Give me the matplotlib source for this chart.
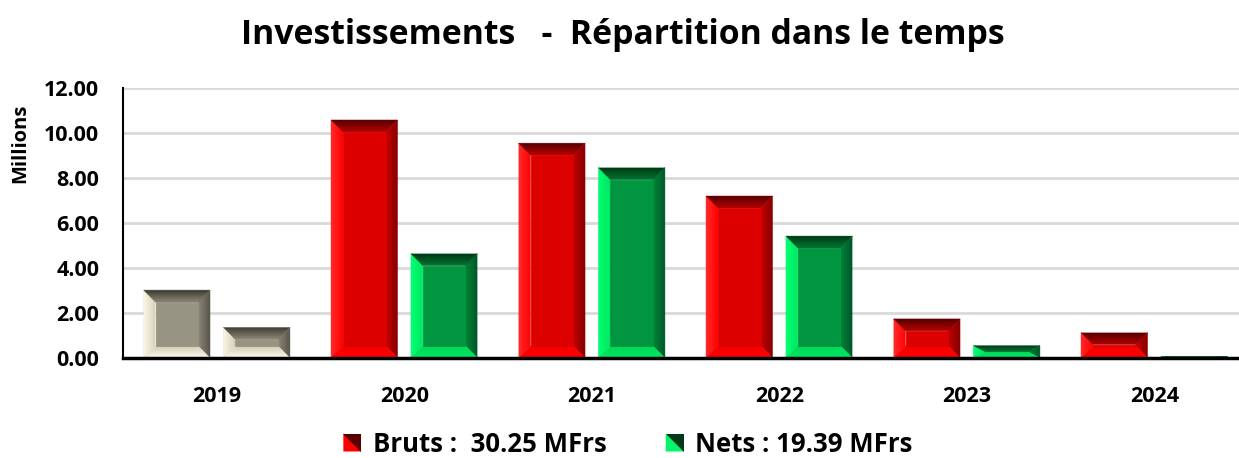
import matplotlib
matplotlib.use("Agg")
import matplotlib.pyplot as plt
from matplotlib.patches import Polygon
from matplotlib.legend_handler import HandlerBase
from matplotlib.colors import to_rgb
import numpy as np

years = ["2019", "2020", "2021", "2022", "2023", "2024"]
bruts = [3.02, 10.58, 9.55, 7.20, 1.74, 1.13]
nets = [1.36, 4.64, 8.46, 5.42, 0.55, 0.08]
yticks = [0, 2, 4, 6, 8, 10, 12]
title = "Investissements   -  Répartition dans le temps"
legend_labels = ["Bruts :  30.25 MFrs", "Nets : 19.39 MFrs"]

FONT = "Open Sans"
plt.rcParams['font.family'] = [FONT, 'DejaVu Sans']

# facet colours: (outer, inner) per facet, plus centre
RED = dict(top=("#560000", "#b80000"), left=("#ff2a2a", "#ff0000"),
           right=("#840000", "#c40000"), bottom=("#ff0000", "#f50000"), centre="#dc0000")
GREEN = dict(top=("#003a17", "#00772f"), left=("#00ff72", "#00e862"),
             right=("#00582a", "#008538"), bottom=("#00ea60", "#00d858"), centre="#00963f")
GREY = dict(top=("#3c3c30", "#8a8676"), left=("#fbf6e4", "#d6d0ba"),
            right=("#58544a", "#8c8878"), bottom=("#fffbea", "#d2ccb6"), centre="#989484")

W, H = 1239, 458
fig = plt.figure(figsize=(W / 100, H / 100), dpi=100)
ax_left_px, ax_right_px = 123, 1248
ax_top_px, ax_bot_px = 88, 358
ax = fig.add_axes([ax_left_px / W, 1 - ax_bot_px / H,
                   (ax_right_px - ax_left_px) / W, (ax_bot_px - ax_top_px) / H])

n = len(years)
x = np.arange(n)
width = 0.355
offset = 0.213
ax.set_xlim(-0.5, n - 0.5)
ax.set_ylim(0, 12)

ppx = (ax_right_px - ax_left_px) / n
ppy = (ax_bot_px - ax_top_px) / 12
bev_px = 12
bx = bev_px / ppx
by = bev_px / ppy


def grad_patch(pts, c_outer, c_inner, direction):
    poly = Polygon(pts, closed=True, facecolor="none", edgecolor="none")
    ax.add_patch(poly)
    xs = [p[0] for p in pts]
    ys = [p[1] for p in pts]
    a, b = np.array(to_rgb(c_outer)), np.array(to_rgb(c_inner))
    t = np.linspace(0, 1, 32)
    if direction == "top":
        img = (b[None, :] * (1 - t[:, None]) + a[None, :] * t[:, None])[:, None, :]
    elif direction == "bottom":
        img = (a[None, :] * (1 - t[:, None]) + b[None, :] * t[:, None])[:, None, :]
    elif direction == "left":
        img = (a[None, :] * (1 - t[:, None]) + b[None, :] * t[:, None])[None, :, :]
    else:
        img = (b[None, :] * (1 - t[:, None]) + a[None, :] * t[:, None])[None, :, :]
    im = ax.imshow(img, extent=(min(xs), max(xs), min(ys), max(ys)), origin="lower",
                   aspect="auto", interpolation="bilinear", zorder=3)
    im.set_clip_path(poly)
    c = tuple((a + b) / 2)
    ax.add_patch(Polygon(pts, closed=True, facecolor="none", edgecolor=c, linewidth=0.3, zorder=3))


def bevel_bar(xc, h, col):
    if h <= 0:
        return
    x0, x1 = xc - width / 2, xc + width / 2
    y0, y1 = 0, h
    b_y = min(by, h / 2)
    ix0, ix1 = x0 + bx, x1 - bx
    iy0, iy1 = y0 + b_y, y1 - b_y
    grad_patch([(x0, y0), (x0, y1), (ix0, iy1), (ix0, iy0)], *col["left"], "left")
    grad_patch([(x1, y0), (x1, y1), (ix1, iy1), (ix1, iy0)], *col["right"], "right")
    grad_patch([(x0, y0), (x1, y0), (ix1, iy0), (ix0, iy0)], *col["bottom"], "bottom")
    grad_patch([(x0, y1), (x1, y1), (ix1, iy1), (ix0, iy1)], *col["top"], "top")
    if iy1 > iy0:
        ax.add_patch(Polygon([(ix0, iy0), (ix1, iy0), (ix1, iy1), (ix0, iy1)], closed=True,
                             facecolor=col["centre"], edgecolor=col["centre"], linewidth=0.6, zorder=3.5))


for i in range(n):
    cb = GREY if i == 0 else RED
    cn = GREY if i == 0 else GREEN
    bevel_bar(x[i] - offset, bruts[i], cb)
    bevel_bar(x[i] + offset, nets[i], cn)

ax.set_xlim(-0.5, n - 0.5)
ax.set_ylim(0, 12)
ax.set_yticks(yticks)
ax.set_yticklabels([f"{v:.2f}" for v in yticks], fontsize=15.5, fontweight="bold")
ax.set_xticks(x)
ax.set_xticklabels(years, fontsize=15.5, fontweight="bold")
ax.tick_params(axis="y", length=0, pad=17)
ax.tick_params(axis="x", length=0, pad=20)
ax.grid(axis="y", color="#d9d9d9", linewidth=2, zorder=0)
ax.set_axisbelow(True)
for s in ["top", "right"]:
    ax.spines[s].set_visible(False)
ax.spines["left"].set_linewidth(1.5)
ax.spines["bottom"].set_linewidth(2.5)
ax.spines["left"].set_zorder(4)
ax.spines["bottom"].set_zorder(4)

fig.text(0.0165, 0.686, "Millions", rotation=90, fontsize=14.5, fontweight="bold", ha="center", va="center")
fig.text(623 / W, 1 - 35 / H, title, fontsize=24.3, fontweight="bold", ha="center", va="center")


class TriHandler(HandlerBase):
    def __init__(self, light, dark):
        super().__init__()
        self.light, self.dark = light, dark

    def create_artists(self, legend, orig_handle, xdescent, ydescent, width, height, fontsize, trans):
        s = min(width, height)
        x0 = -xdescent + (width - s)
        y0 = -ydescent
        p1 = Polygon([(x0, y0), (x0 + s, y0), (x0, y0 + s)], closed=True, facecolor=self.light, edgecolor="none", transform=trans)
        p2 = Polygon([(x0 + s, y0), (x0 + s, y0 + s), (x0, y0 + s)], closed=True, facecolor=self.dark, edgecolor="none", transform=trans)
        return [p1, p2]


class H1: pass
class H2: pass

leg = fig.legend([H1(), H2()], legend_labels,
                 handler_map={H1: TriHandler("#ff0000", "#5a0000"),
                              H2: TriHandler("#00f56a", "#003a17")},
                 loc="center", bbox_to_anchor=(628 / W, 1 - 444 / H), ncol=2, frameon=False,
                 prop=dict(size=18.5, weight="bold"), handlelength=0.7, handleheight=0.7,
                 handletextpad=0.45, columnspacing=2.3)

fig.savefig("out.png", dpi=100)
